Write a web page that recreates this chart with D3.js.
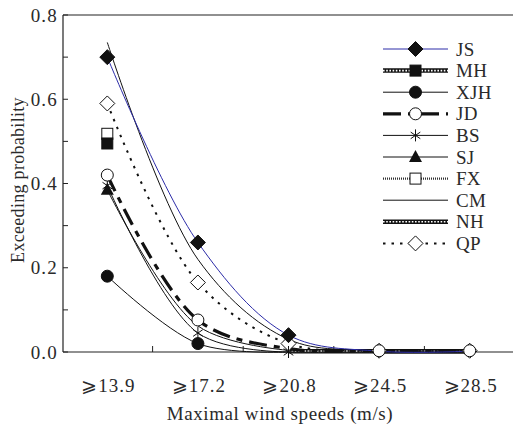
<!DOCTYPE html>
<html><head><meta charset="utf-8">
<script src="https://cdn.jsdelivr.net/npm/d3@7"></script>
<style>body{margin:0;background:#fff}svg{display:block}text{font-family:"Liberation Serif","Times New Roman",serif;fill:#2a2a2a}</style>
</head><body>
<script>
const categories = ["⩾13.9","⩾17.2","⩾20.8","⩾24.5","⩾28.5"];
const yTicks = [0.0,0.2,0.4,0.6,0.8];
const JS  = [0.70, 0.26, 0.04, 0.002, 0.002];
const MH  = [0.495, null, null, 0.002, 0.002];
const XJH = [0.18, 0.02, 0.0, null, null];
const JD  = [0.42, 0.076, 0.008, 0.003, 0.003];
const BS  = [0.395, 0.045, 0.0, null, null];
const SJ  = [0.385, 0.062, 0.004, null, null];
const FX  = [0.518, null, 0.001, 0.001, 0.001];
const CM  = [0.735, 0.22, 0.03, 0.004, 0.004];
const NH  = [null, null, 0.002, 0.002, 0.002];
const QP  = [0.59, 0.165, 0.02, 0.003, 0.003];

const series = [
  {name:"JS", v:JS, style:"blue", marker:"diamondF", show:[1,1,1,0,0]},
  {name:"MH", v:MH, style:"chain", marker:"squareF", show:[1,0,0,0,0]},
  {name:"XJH", v:XJH, style:"thin", marker:"circleF", show:[1,1,0,0,0]},
  {name:"JD", v:JD, style:"dashdot", marker:"circleO", show:[1,1,0,1,1]},
  {name:"BS", v:BS, style:"thin", marker:"star", show:[1,1,1,0,0]},
  {name:"SJ", v:SJ, style:"thin", marker:"triangleF", show:[1,0,0,0,0]},
  {name:"FX", v:FX, style:"hatch", marker:"squareO", show:[1,0,0,0,0]},
  {name:"CM", v:CM, style:"thin", marker:null, show:[0,0,0,0,0]},
  {name:"NH", v:NH, style:"chain", marker:null, show:[0,0,0,0,0]},
  {name:"QP", v:QP, style:"dotted", marker:"diamondO", show:[1,1,1,1,1]}
];
const markerOrder = ["QP","JS","FX","MH","BS","SJ","XJH","JD"];

const W=513,H=428;
const svg=d3.select("body").append("svg").attr("width",W).attr("height",H);
const x=d3.scaleBand().domain(categories).range([62,515]);
const y=d3.scaleLinear().domain([0,0.8]).range([352,15]);
const cx=c=>x(c)+x.bandwidth()/2;

svg.append("line").attr("x1",63).attr("x2",W).attr("y1",y(0.8)).attr("y2",y(0.8)).attr("stroke","#222").attr("stroke-width",1.2);
svg.append("line").attr("x1",63).attr("x2",W).attr("y1",y(0)).attr("y2",y(0)).attr("stroke","#222").attr("stroke-width",1.2);
svg.append("line").attr("x1",63).attr("x2",63).attr("y1",y(0.8)).attr("y2",y(0)).attr("stroke","#222").attr("stroke-width",1.2);
const yMinor=d3.range(0,0.81,0.1);
svg.selectAll(".yt").data(yMinor).enter().append("line").attr("x1",63).attr("x2",68).attr("y1",d=>y(d)).attr("y2",d=>y(d)).attr("stroke","#222");
svg.selectAll(".yl").data(yTicks).enter().append("text").attr("x",58).attr("y",d=>y(d)).attr("dy","0.35em").attr("text-anchor","end").attr("font-size",19).attr("letter-spacing",1.2).text(d=>d.toFixed(1));
svg.selectAll(".xt").data(categories.slice(1)).enter().append("line").attr("x1",d=>x(d)).attr("x2",d=>x(d)).attr("y1",352).attr("y2",346).attr("stroke","#222");
svg.selectAll(".xl").data(categories).enter().append("text").attr("x",d=>cx(d)+1).attr("y",392).attr("text-anchor","middle").attr("font-size",19).attr("letter-spacing",1).text(d=>d);
svg.append("text").attr("x",280).attr("y",420).attr("text-anchor","middle").attr("font-size",19).attr("letter-spacing",0.6).text("Maximal wind speeds (m/s)");
svg.append("text").attr("transform","translate(24,180) rotate(-90)").attr("text-anchor","middle").attr("font-size",18).attr("letter-spacing",0.3).text("Exceeding probability");

function strokeStyle(style){
  const layers=[];
  if(style==="blue") layers.push({stroke:"#2c2ca8",w:1});
  if(style==="thin") layers.push({stroke:"#111",w:1});
  if(style==="chain"){layers.push({stroke:"#111",w:4.5});layers.push({stroke:"#fff",w:1.6,dash:"1.6,1.6"});}
  if(style==="dashdot") layers.push({stroke:"#111",w:3.2,dash:"18,7,6,7"});
  if(style==="hatch"){layers.push({stroke:"#333",w:2.2,dash:"1,1"});}
  if(style==="dotted") layers.push({stroke:"#111",w:2,dash:"2.5,6"});
  return layers;
}

const line=d3.line().defined(d=>d.v!=null).x(d=>cx(d.c)).y(d=>y(d.v)).curve(d3.curveCatmullRom.alpha(0.5));
const drawOrder=["NH","MH","FX","CM","SJ","BS","XJH","JD","QP","JS"];
drawOrder.forEach(n=>{
  const s=series.find(t=>t.name===n);
  const pts=categories.map((c,i)=>({c,v:s.v[i]}));
  strokeStyle(s.style).forEach(L=>{
    svg.append("path").attr("d",line(pts)).attr("fill","none").attr("stroke",L.stroke).attr("stroke-width",L.w).attr("stroke-dasharray",L.dash||null);
  });
});

function drawMarker(g,type,px,py){
  if(type==="diamondF"||type==="diamondO"){
    g.append("path").attr("d",`M${px},${py-7.5}L${px+7.5},${py}L${px},${py+7.5}L${px-7.5},${py}Z`).attr("fill",type==="diamondF"?"#111":"#fff").attr("stroke","#111").attr("stroke-width",1);
  } else if(type==="squareF"||type==="squareO"){
    g.append("rect").attr("x",px-5.5).attr("y",py-5.5).attr("width",11).attr("height",11).attr("fill",type==="squareF"?"#111":"#fff").attr("stroke","#111").attr("stroke-width",1);
  } else if(type==="circleF"||type==="circleO"){
    g.append("circle").attr("cx",px).attr("cy",py).attr("r",6).attr("fill",type==="circleF"?"#111":"#fff").attr("stroke","#111").attr("stroke-width",1);
  } else if(type==="triangleF"){
    g.append("path").attr("d",`M${px},${py-7}L${px+6.5},${py+5}L${px-6.5},${py+5}Z`).attr("fill","#111");
  } else if(type==="star"){
    const r=6;
    [[0,-r,0,r],[-r*0.8,-r*0.55,r*0.8,r*0.55],[-r*0.8,r*0.55,r*0.8,-r*0.55]].forEach(a=>
      g.append("line").attr("x1",px+a[0]).attr("y1",py+a[1]).attr("x2",px+a[2]).attr("y2",py+a[3]).attr("stroke","#111").attr("stroke-width",1));
  }
}
const mg=svg.append("g");
markerOrder.forEach(n=>{
  const s=series.find(t=>t.name===n);
  categories.forEach((c,i)=>{ if(s.show[i]&&s.v[i]!=null) drawMarker(mg,s.marker,cx(c),y(s.v[i])); });
});

const lg=svg.append("g");
series.forEach((s,i)=>{
  const ly=49+i*21.6;
  strokeStyle(s.style).forEach(L=>{
    lg.append("line").attr("x1",383).attr("x2",448).attr("y1",ly).attr("y2",ly).attr("stroke",L.stroke).attr("stroke-width",L.w).attr("stroke-dasharray",L.dash||null);
  });
  if(s.marker) drawMarker(lg,s.marker,415.5,ly);
  lg.append("text").attr("x",456).attr("y",ly).attr("dy","0.35em").attr("font-size",19).attr("letter-spacing",0.3).text(s.name);
});
</script>
</body></html>
